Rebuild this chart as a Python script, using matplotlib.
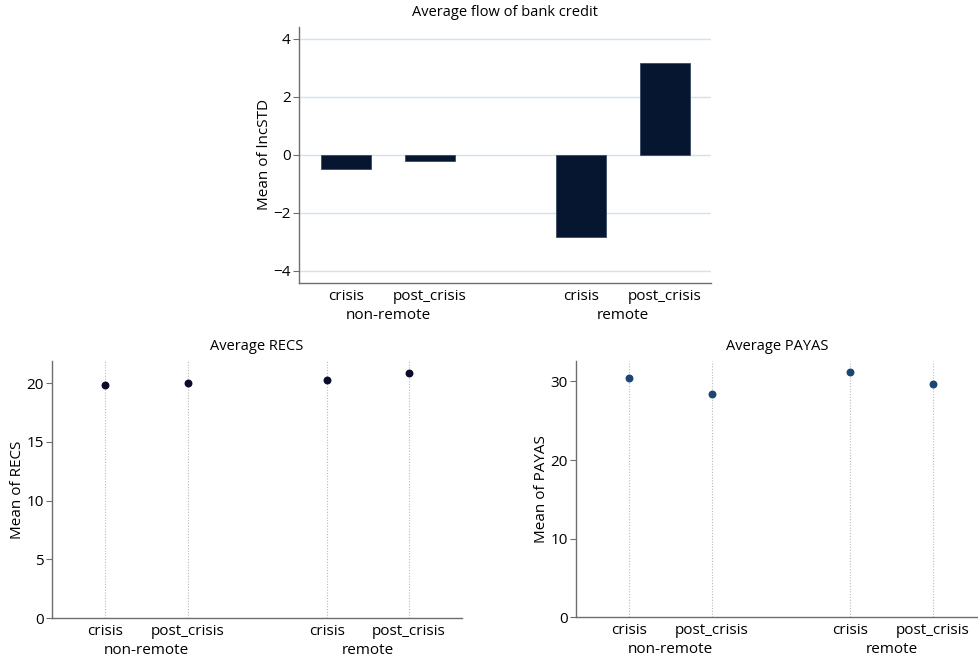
import matplotlib
matplotlib.use("Agg")
import matplotlib.pyplot as plt
import matplotlib.transforms as mtransforms

plt.rcParams['font.family'] = ['Open Sans', 'DejaVu Sans']

groups = ["non-remote", "remote"]
periods = ["crisis", "post_crisis"]
tick_labels = ["crisis", "post_crisis", "crisis", "post_crisis"]

credit_vals = [-0.49, -0.23, -2.84, 3.15]
recs_vals = [19.86, 20.0, 20.28, 20.88]
payas_vals = [30.48, 28.45, 31.16, 29.63]

pos_top = [0, 1, 2.8, 3.8]
pos_bot = [0, 1, 2.67, 3.66]

BAR = "#061631"
RECS_C = "#0b0b2b"
PAYAS_C = "#1b4673"
SPINE = "#6e6e6e"

fig = plt.figure(figsize=(9.79, 6.59), dpi=100)

def style(ax):
    for s in ["top", "right"]:
        ax.spines[s].set_visible(False)
    for s in ["left", "bottom"]:
        ax.spines[s].set_color(SPINE)
        ax.spines[s].set_linewidth(1.0)
    ax.tick_params(axis="y", length=4, color=SPINE, labelsize=11, pad=2)
    ax.tick_params(axis="x", length=0, labelsize=11, pad=4)

def group_labels(ax, pos, ypix):
    trans = mtransforms.blended_transform_factory(ax.transData, ax.transAxes)
    for gi, g in enumerate(groups):
        x = (pos[2 * gi] + pos[2 * gi + 1]) / 2
        ax.annotate(g, xy=(x, 0), xycoords=trans, xytext=(0, ypix),
                    textcoords="offset points", ha="center", va="top", fontsize=11)

# Top chart
ax1 = fig.add_axes([0.3054, 0.5706, 0.4209, 0.3884])
ax1.bar(pos_top, credit_vals, width=0.6, color=BAR, edgecolor="#3a4a60", linewidth=0.6, zorder=3)
ax1.set_ylim(-4.42, 4.4)
ax1.set_xlim(-0.56, 4.35)
ax1.set_yticks([-4, -2, 0, 2, 4])
ax1.set_yticklabels(["\u22124", "\u22122", "0", "2", "4"])
ax1.set_xticks(pos_top)
ax1.set_xticklabels(tick_labels)
ax1.yaxis.grid(True, color="#d3e3ec", linewidth=1.0, zorder=0)
ax1.set_axisbelow(True)
style(ax1)
ax1.set_ylabel("Mean of lncSTD", fontsize=11, labelpad=1)
ax1.set_title("Average flow of bank credit", fontsize=10.5, pad=8)
group_labels(ax1, pos_top, -18)

# Bottom-left
ax2 = fig.add_axes([0.0531, 0.0622, 0.4188, 0.39])
ax2.set_xlim(-0.64, 4.3)
ax2.set_ylim(0, 21.9)
ax2.set_yticks([0, 5, 10, 15, 20])
ax2.set_xticks(pos_bot)
ax2.set_xticklabels(tick_labels)
ax2.xaxis.grid(True, color="#b8b8b8", linestyle=(0, (1, 1.5)), linewidth=0.8, zorder=0)
ax2.scatter(pos_bot, recs_vals, s=22, color=RECS_C, zorder=3)
style(ax2)
ax2.set_ylabel("Mean of RECS", fontsize=11, labelpad=1)
ax2.set_title("Average RECS", fontsize=10.5, pad=8)
group_labels(ax2, pos_bot, -18)

# Bottom-right
ax3 = fig.add_axes([0.5884, 0.0633, 0.4116, 0.389])
ax3.set_xlim(-0.64, 4.22)
ax3.set_ylim(0, 32.6)
ax3.set_yticks([0, 10, 20, 30])
ax3.set_xticks(pos_bot)
ax3.set_xticklabels(tick_labels)
ax3.xaxis.grid(True, color="#b8b8b8", linestyle=(0, (1, 1.5)), linewidth=0.8, zorder=0)
ax3.scatter(pos_bot, payas_vals, s=22, color=PAYAS_C, zorder=3)
style(ax3)
ax3.set_ylabel("Mean of PAYAS", fontsize=11, labelpad=1)
ax3.set_title("Average PAYAS", fontsize=10.5, pad=8)
group_labels(ax3, pos_bot, -18)

fig.savefig("out.png", dpi=100)
